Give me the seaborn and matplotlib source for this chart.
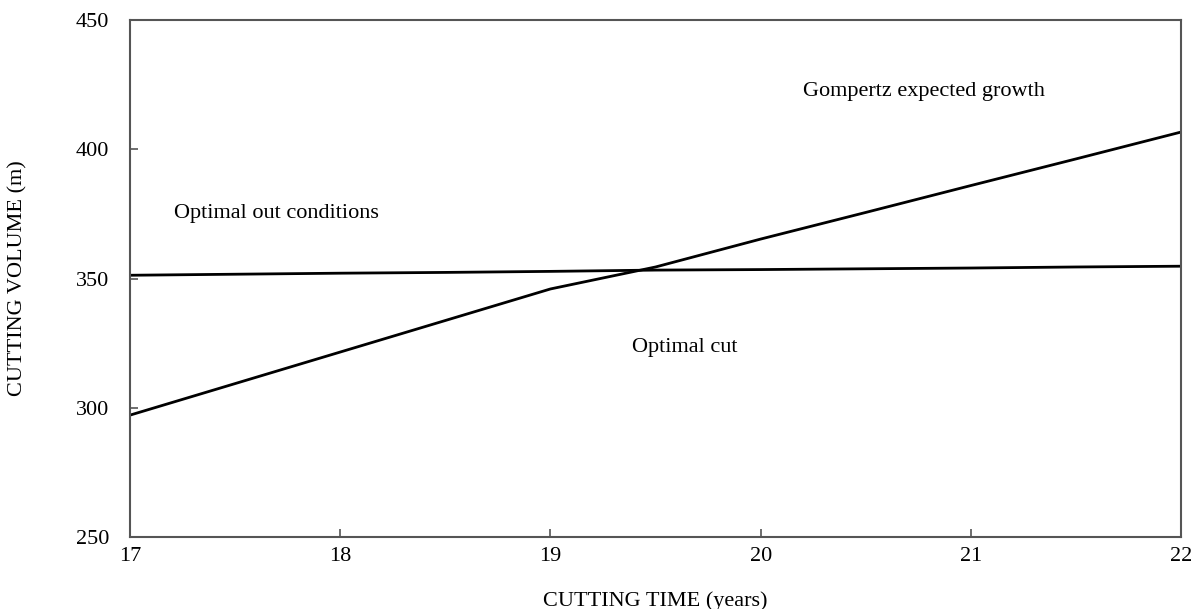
import numpy as np
import pandas as pd
import matplotlib
matplotlib.use("Agg")
import matplotlib.pyplot as plt
import seaborn as sns

# values
years = [17, 17.5, 18, 18.5, 19, 19.5, 20, 20.5, 21, 21.5, 22]
gompertz = [297.2, 309.4, 321.6, 333.8, 346.0, 354.5, 365.3, 375.6, 386.0, 396.3, 406.7]
optimal = [351.3, 351.7, 352.1, 352.4, 352.8, 353.3, 353.5, 353.8, 354.1, 354.5, 354.8]

x_ticks = [17, 18, 19, 20, 21, 22]
y_ticks = [250, 300, 350, 400, 450]

sns.set_theme(style="white")
plt.rcParams['font.family'] = ['Liberation Serif', 'DejaVu Serif']
plt.rcParams['text.color'] = 'black'
plt.rcParams['axes.labelcolor'] = 'black'
plt.rcParams['xtick.labelcolor'] = 'black'
plt.rcParams['ytick.labelcolor'] = 'black'

df = pd.DataFrame({"year": years, "gompertz": gompertz, "optimal": optimal})

fig = plt.figure(figsize=(11.93, 6.09), dpi=100)
ax = fig.add_axes([0.109, 0.118, 0.881, 0.849])

sns.lineplot(data=df, x="year", y="gompertz", ax=ax, color="black", linewidth=2)
sns.lineplot(data=df, x="year", y="optimal", ax=ax, color="black", linewidth=2)

ax.set_xlim(17, 22)
ax.set_ylim(250, 450)
ax.set_xticks(x_ticks)
ax.set_yticks(y_ticks)
ax.tick_params(axis="both", direction="in", length=6, width=1.2, color="#555555",
               labelsize=16, labelcolor="black", top=False, right=False, bottom=True, left=True)
ax.tick_params(axis="y", pad=15)
ax.tick_params(axis="x", pad=7)
for s in ax.spines.values():
    s.set_color("#555555")
    s.set_linewidth(1.5)

ax.set_xlabel("CUTTING TIME (years)", fontsize=16, labelpad=18)
ax.set_ylabel("CUTTING VOLUME (m)", fontsize=16, labelpad=35)

ax.text(20.2, 422.5, "Gompertz expected growth", fontsize=16, va="center", ha="left")
ax.text(17.21, 375, "Optimal out conditions", fontsize=16, va="center", ha="left")
ax.text(19.39, 323.5, "Optimal cut", fontsize=16, va="center", ha="left")

fig.savefig("out.png", dpi=100)
